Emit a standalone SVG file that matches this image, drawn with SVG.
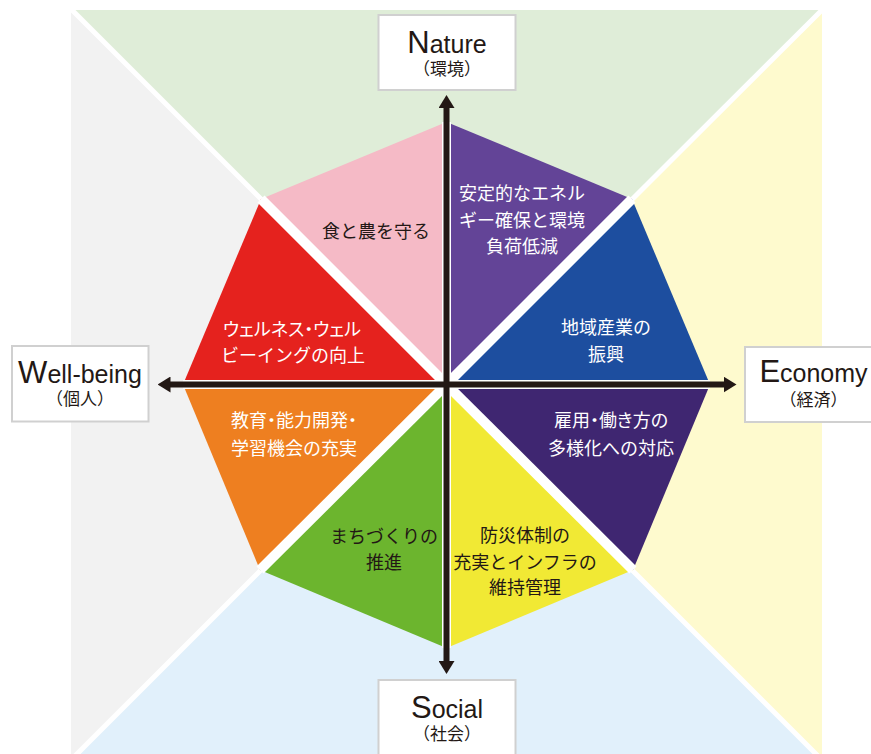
<svg xmlns="http://www.w3.org/2000/svg" width="871" height="754" viewBox="0 0 871 754">
<defs>
<style>
.box{fill:#ffffff;stroke:#d0d0d0;stroke-width:2}
.en{font-family:"Liberation Sans","Noto Sans CJK JP",sans-serif;fill:#231815;text-anchor:middle}
.big{font-size:31px}
.sm{font-size:25px}
.sub{font-family:"Noto Sans CJK JP",sans-serif;font-size:17px;fill:#231815;text-anchor:middle}
.jp{font-family:"Noto Sans CJK JP",sans-serif;font-size:18px;text-anchor:middle}
.p{font-feature-settings:"palt" 1}
.w{fill:#ffffff}
.d{fill:#231815}
.gap{stroke:#ffffff;fill:none}
.axis{stroke:#231815;stroke-width:6;fill:none}
</style>
<marker id="ah" viewBox="0 -8 13 16" refX="1" refY="0" markerWidth="13" markerHeight="16" markerUnits="userSpaceOnUse" orient="auto-start-reverse">
<path d="M0,-8 L13,0 L0,8 z" fill="#231815"/>
</marker>
</defs>
<g id="background">
<polygon points="71,10 822,10 446.5,384.5" fill="#DFEDD8"/>
<polygon points="822,10 822,754 816,754 446.5,384.5" fill="#FEFACE"/>
<polygon points="816,754 77,754 446.5,384.5" fill="#E1F0FB"/>
<polygon points="71,754 71,10 446.5,384.5 77,754" fill="#F2F2F2"/>
<g class="gap" stroke-width="5">
<line x1="446.5" y1="384.5" x2="68" y2="6"/>
<line x1="446.5" y1="384.5" x2="826" y2="6"/>
<line x1="446.5" y1="384.5" x2="820" y2="758"/>
<line x1="446.5" y1="384.5" x2="73" y2="758"/>
</g>
</g>
<g id="n-food"><polygon points="446.5,384.5 446.5,122 261,199" fill="#F5BAC6"/></g>
<g id="n-energy"><polygon points="446.5,384.5 446.5,122 632,199" fill="#634497"/></g>
<g id="n-industry"><polygon points="446.5,384.5 632,199 710,384.5" fill="#1D4E9F"/></g>
<g id="n-employment"><polygon points="446.5,384.5 710,384.5 633,570" fill="#3F2671"/></g>
<g id="n-disaster"><polygon points="446.5,384.5 633,570 446.5,648" fill="#F1E934"/></g>
<g id="n-town"><polygon points="446.5,384.5 446.5,648 260,570" fill="#6CB52E"/></g>
<g id="n-education"><polygon points="446.5,384.5 260,570 183,384.5" fill="#EE7F20"/></g>
<g id="n-wellness"><polygon points="446.5,384.5 183,384.5 261,199" fill="#E5221E"/></g>
<g id="gaps" class="gap">
<g stroke-width="10">
<line x1="446.5" y1="384.5" x2="261" y2="199"/>
<line x1="446.5" y1="384.5" x2="632" y2="199"/>
<line x1="446.5" y1="384.5" x2="633" y2="570"/>
<line x1="446.5" y1="384.5" x2="260" y2="570"/>
</g>
<g stroke-width="9">
<line x1="446.5" y1="122" x2="446.5" y2="648"/>
<line x1="183" y1="384.5" x2="710" y2="384.5"/>
</g>
</g>
<g id="connectors">
<line class="axis" x1="446.5" y1="107" x2="446.5" y2="662" marker-start="url(#ah)" marker-end="url(#ah)"/>
<line class="axis" x1="169.5" y1="384.5" x2="724.5" y2="384.5" marker-start="url(#ah)" marker-end="url(#ah)"/>
</g>
<g id="labels-octagon">
<text class="jp d" x="376" y="238">食と農を守る</text>
<text class="jp w" x="522" y="200">安定的なエネル</text>
<text class="jp w" x="522" y="226.5">ギー確保と環境</text>
<text class="jp w" x="522" y="253">負荷低減</text>
<text class="jp w" x="606" y="334">地域産業の</text>
<text class="jp w" x="606" y="361">振興</text>
<text class="jp w p" x="611" y="426.5">雇用・働き方の</text>
<text class="jp w" x="611" y="454.5">多様化への対応</text>
<text class="jp d" x="525" y="542">防災体制の</text>
<text class="jp d" x="525" y="569">充実とインフラの</text>
<text class="jp d" x="525" y="594">維持管理</text>
<text class="jp d" x="384" y="543">まちづくりの</text>
<text class="jp d" x="384" y="569">推進</text>
<text class="jp w p" x="294" y="426.5">教育・能力開発・</text>
<text class="jp w" x="294" y="454.5">学習機会の充実</text>
<text class="jp w p" x="292" y="335.5">ウェルネス・ウェル</text>
<text class="jp w" x="293" y="361.5">ビーイングの向上</text>
</g>
<g id="nature">
<rect class="box" x="378.5" y="15" width="137" height="75"/>
<text class="en" x="447" y="53"><tspan class="big">N</tspan><tspan class="sm">ature</tspan></text>
<text class="sub" x="447" y="75">（環境）</text>
</g>
<g id="wellbeing">
<rect class="box" x="12" y="346" width="136.5" height="75.5"/>
<text class="en" x="80" y="383"><tspan class="big">W</tspan><tspan class="sm">ell-being</tspan></text>
<text class="sub" x="80" y="405">（個人）</text>
</g>
<g id="economy">
<rect class="box" x="745" y="347" width="137" height="75"/>
<text class="en" x="813.5" y="382"><tspan class="big">E</tspan><tspan class="sm">conomy</tspan></text>
<text class="sub" x="813.5" y="406">（経済）</text>
</g>
<g id="social">
<rect class="box" x="378.5" y="680" width="137" height="80"/>
<text class="en" x="447" y="718"><tspan class="big">S</tspan><tspan class="sm">ocial</tspan></text>
<text class="sub" x="447" y="740">（社会）</text>
</g>
</svg>
